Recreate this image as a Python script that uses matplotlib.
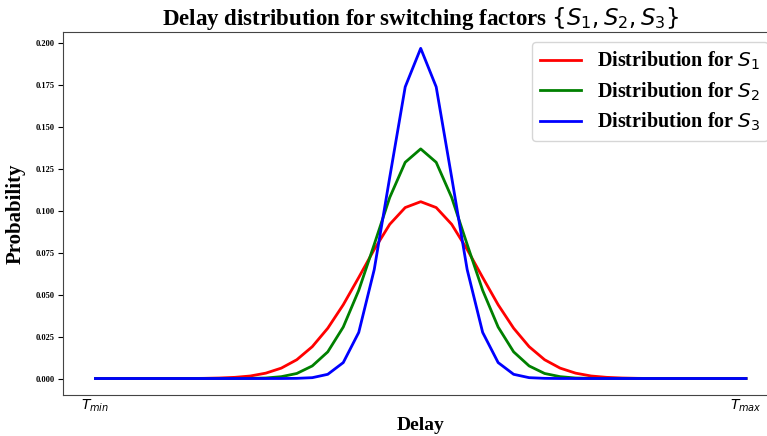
import matplotlib
matplotlib.use("Agg")
import matplotlib.pyplot as plt
import numpy as np

# probability of each delay bin, 43 bins from T_min to T_max
p_s1 = [0.0000, 0.0000, 0.0000, 0.0000, 0.0000, 0.0000, 0.0000, 0.0001, 0.0003,
        0.0007, 0.0015, 0.0032, 0.0062, 0.0112, 0.0190, 0.0300, 0.0440, 0.0603,
        0.0770, 0.0920, 0.1020, 0.1055, 0.1020, 0.0920, 0.0770, 0.0603, 0.0440,
        0.0300, 0.0190, 0.0112, 0.0062, 0.0032, 0.0015, 0.0007, 0.0003, 0.0001,
        0.0000, 0.0000, 0.0000, 0.0000, 0.0000, 0.0000, 0.0000]
p_s2 = [0.0000, 0.0000, 0.0000, 0.0000, 0.0000, 0.0000, 0.0000, 0.0000, 0.0000,
        0.0000, 0.0001, 0.0003, 0.0011, 0.0030, 0.0075, 0.0159, 0.0307, 0.0526,
        0.0800, 0.1080, 0.1290, 0.1370, 0.1290, 0.1080, 0.0800, 0.0526, 0.0307,
        0.0159, 0.0075, 0.0030, 0.0011, 0.0003, 0.0001, 0.0000, 0.0000, 0.0000,
        0.0000, 0.0000, 0.0000, 0.0000, 0.0000, 0.0000, 0.0000]
p_s3 = [0.0000, 0.0000, 0.0000, 0.0000, 0.0000, 0.0000, 0.0000, 0.0000, 0.0000,
        0.0000, 0.0000, 0.0000, 0.0000, 0.0001, 0.0005, 0.0025, 0.0095, 0.0275,
        0.0650, 0.1200, 0.1740, 0.1970, 0.1740, 0.1200, 0.0650, 0.0275, 0.0095,
        0.0025, 0.0005, 0.0001, 0.0000, 0.0000, 0.0000, 0.0000, 0.0000, 0.0000,
        0.0000, 0.0000, 0.0000, 0.0000, 0.0000, 0.0000, 0.0000]
series_labels = [r"Distribution for $S_1$", r"Distribution for $S_2$", r"Distribution for $S_3$"]
tick_names = [r"$T_{min}$", r"$T_{max}$"]

delay = np.arange(len(p_s1))

fig = plt.figure(figsize=(7.67, 4.36), dpi=100)
# axes runs a little past the right edge of the figure
ax = fig.add_axes([0.082, 0.094, 0.933, 0.833])

for p, c, lab in zip([p_s1, p_s2, p_s3], ["red", "green", "blue"], series_labels):
    ax.plot(delay, p, color=c, linewidth=2, label=lab)

serif = "Liberation Serif"
ax.set_title(r"Delay distribution for switching factors $\{S_1, S_2, S_3\}$",
             fontsize=16.5, fontweight="bold", family=serif, pad=4)
ax.set_xlabel("Delay", fontsize=14, fontweight="bold", family=serif, labelpad=2)
ax.set_ylabel("Probability", fontsize=15, fontweight="bold", family=serif, labelpad=7)

for s in ax.spines.values():
    s.set_color("#444444")

ax.set_xticks([delay[0], delay[-1]])
ax.set_xticklabels(tick_names, fontsize=10)
ax.tick_params(axis="x", length=0, pad=2)
ax.tick_params(axis="y", pad=2.5)
ax.set_yticks(np.arange(0, 0.201, 0.025))
ax.set_yticklabels(["%.3f" % v for v in np.arange(0, 0.201, 0.025)],
                   fontsize=6, fontweight="bold", family=serif)

leg = ax.legend(loc="upper right", labelspacing=0.4,
                prop={"family": serif, "weight": "bold", "size": 14.5})

fig.savefig("out.png", dpi=100)
